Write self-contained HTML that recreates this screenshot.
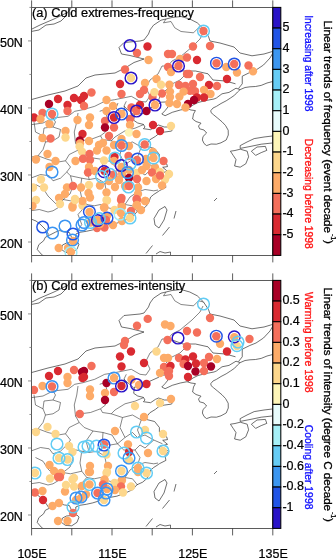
<!DOCTYPE html><html><head><meta charset="utf-8"><style>html,body{margin:0;padding:0;background:#fff}svg{display:block;will-change:transform}text{font-family:"Liberation Sans",sans-serif;fill:#000;stroke:#000;stroke-width:0.22px}</style></head><body>
<svg width="336" height="558" viewBox="0 0 336 558">
<rect width="336" height="558" fill="#fff"/>
<clipPath id="cp0"><rect x="31.6" y="7.4" width="241.20000000000002" height="248.0"/></clipPath>
<g clip-path="url(#cp0)">
<polyline points="31,29.5 40,25 54,19 67.5,12.5 72,7" fill="none" stroke="#222" stroke-width="0.65"/>
<polyline points="31,31.5 39,30 46,25 54,24 61,21 67,15" fill="none" stroke="#222" stroke-width="0.65"/>
<polyline points="168,66 175,68 183,71 195.5,71 208,73.8 213,80 225.5,81 235.5,83.8" fill="none" stroke="#222" stroke-width="0.65"/>
<polyline points="165,206.5 159,210 154,218.5 155,225 159,228 164,220 167,210 165,206.5" fill="none" stroke="#222" stroke-width="0.65"/>
<polyline points="176,211 174,218.5" fill="none" stroke="#222" stroke-width="0.65"/>
<polyline points="169.5,227 162.5,235.5" fill="none" stroke="#222" stroke-width="0.65"/>
<polyline points="152.5,245.5 146,253.5" fill="none" stroke="#222" stroke-width="0.65"/>
<polyline points="156,254 160,251.5 165,253 170.5,252 170.5,255" fill="none" stroke="#222" stroke-width="0.65"/>
<polyline points="214,201 217,198" fill="none" stroke="#222" stroke-width="0.65"/>
<polyline points="48.8,234.7 45,229 40,224 36,221 31,219" fill="none" stroke="#222" stroke-width="0.65"/>
<polyline points="62.4,245.1 66.5,243 77,242 79,244.1 77,249.3 71.75,252.8 65.5,252.4 61.3,249.3 62.4,245.1" fill="none" stroke="#222" stroke-width="0.65"/>
<polyline points="187.6,108.6 180.3,110.0 172.3,112.3 165.1,115.7 161.8,114.0 165.1,110.6 169.9,104.6 167.5,101.9 161.0,102.2 158.6,104.3 149.0,108.6 143.4,113.6 134.5,114.0 133.7,120.3 137.7,123.0 143.4,124.4 145.0,127.0 143.4,128.7 150.6,129.7 155.4,126.4 158.6,125.0 164.3,127.0 169.9,127.0 173.1,128.4 171.5,131.1 164.3,132.1 158.6,133.8 155.4,136.4 149.8,139.8 146.6,143.8 146.6,146.5 154.6,148.5 159.4,154.5 159.4,159.2 166.7,163.9 167.5,166.6 162.7,167.3 167.5,171.3 160.2,173.3 159.4,175.3 165.1,177.3 169.1,178.0 165.1,182.7 165.9,187.4 159.4,190.7 157.0,192.4 153.8,194.4 150.6,197.1 149.0,201.8 146.6,205.8 142.6,209.2 136.9,211.8 132.9,216.5 125.7,219.9 116.8,223.2 108.8,224.6 105.6,226.6 100.7,224.6 99.1,227.9 92.7,229.9 86.3,231.3 79.8,232.3 75.8,234.0 75.8,238.7 72.6,240.0 71.0,236.0 69.4,232.6 64.6,232.0 59.7,230.6 55.7,232.0 49.3,235.3 45.3,237.3 43.7,240.7 38.8,244.7 37.2,249.4 41.2,254.1 44.5,256.8" fill="none" stroke="#222" stroke-width="0.65"/>
<polyline points="187.6,108.9 191,110 195.4,110.6 193.5,114 192.6,119 196,121.5 201,123.2 198.5,126 199.6,128.8 204,130 206.6,133 203,136.5 202.4,140 204,143.5 206.6,145.6 211,144 216.4,144.2 221,142.8 226.2,140 228.3,135 228.2,130.2 225.5,125.5 222,121.8 217.5,118 213.6,114.8 211,112.5 210.8,110.6 213,108 216.4,106.4 221,103.5 226.2,100.8 230.5,98 234.6,95.2 237.5,92 240.2,89.6 245,87.5 250,86.8 255.5,86.5 261.2,85.4 267,83 274,81.2" fill="none" stroke="#222" stroke-width="0.65"/>
<polyline points="187.6,108.9 193,105 198,102.5 206,100.5 214,99 216.4,98 222,93.8 229,92.4 236,88.2 240.2,89.6" fill="none" stroke="#222" stroke-width="0.65"/>
<polyline points="274,51 270,58 263.5,65 256,70 249.75,72.5 242.25,76.2 242.25,83.8 238.5,88.5" fill="none" stroke="#222" stroke-width="0.65"/>
<polyline points="274,135.8 264,137 254.2,138.6 247,142 240.2,145.6 240.2,148.4 250,146.5 261.2,144.2 274,142.8" fill="none" stroke="#222" stroke-width="0.65"/>
<polyline points="230.4,151.2 235,150.5 240.2,149.2 247.2,151.2 248.6,156.8 245.8,163.8 240.2,167.2 234.6,166 236,159.6 233.2,155.4 230.4,151.2" fill="none" stroke="#222" stroke-width="0.65"/>
<polyline points="251.4,151.2 257,147 265.4,146.4 266.8,150.4 261.2,152.6 255.6,155.4 251.4,151.2" fill="none" stroke="#222" stroke-width="0.65"/>
<polyline points="166,19 161,20.2 153.5,25.2 150,30 148.5,34 144,40 140,41 124,42.5 119,47.5 121.5,54 130,55.5 138,57.5 144,59 134,62.5 125,68 115,73 95,75 86,78 78,86 65,91 48,95 31,99.7" fill="none" stroke="#222" stroke-width="0.65"/>
<polyline points="166,19 172,17.5 181,16.5 189.75,19 197.25,22.8 203.5,29 208.5,36.5 210,41 220,43 234,47 240,53 252,55.8 264,54 274,51" fill="none" stroke="#222" stroke-width="0.65"/>
<polyline points="31,124.7 43,123 53,118 68,116.3 74.7,111.3 83,109.7 94.7,106.3 104.7,101.3 114.7,99.7 123,98 131.3,96.3 140,101.3 146,102 150,96 146,88 150,80 158,74 162,66" fill="none" stroke="#222" stroke-width="0.55"/>
<polyline points="34,122 35.5,132 43,135.8 44,128 53,127 55.5,122 53,118" fill="none" stroke="#222" stroke-width="0.55"/>
<polyline points="43,135.8 45.5,142 43,149.5 38,155.8 31.75,157" fill="none" stroke="#222" stroke-width="0.55"/>
<polyline points="53,127 60.5,129.5 59,137 53,140.8 45.5,142" fill="none" stroke="#222" stroke-width="0.55"/>
<polyline points="78,113 76.75,122 74.25,132 75.5,143 79.25,149.5 84.25,154.5 93,158 103,159.5 112,162 117.5,170.8" fill="none" stroke="#222" stroke-width="0.55"/>
<polyline points="99.7,111.3 105,109.5 107.5,119.5 103,127 105.5,132 100.5,135.8 90.5,139.5 80.5,140.8 75.5,143" fill="none" stroke="#222" stroke-width="0.55"/>
<polyline points="100.5,135.8 102.5,139.5 111.25,140.8" fill="none" stroke="#222" stroke-width="0.55"/>
<polyline points="126.3,101.3 124,106 128,110 133.7,114.6" fill="none" stroke="#222" stroke-width="0.55"/>
<polyline points="118,103 116,108 120,112 125,110 124,106" fill="none" stroke="#222" stroke-width="0.55"/>
<polyline points="143.75,124.5 135,128.2 125,130.8 115,137 111.25,140.8 122.5,144.5 132.5,142 141.25,147 147,144.6" fill="none" stroke="#222" stroke-width="0.55"/>
<polyline points="122.5,144.5 120,154.5 125,164.5 117.5,170.8 110,172 102.5,167 103,159.5" fill="none" stroke="#222" stroke-width="0.55"/>
<polyline points="141.25,147 137.5,157 140,163.2 137.5,164.5 132.5,159.5 125,164.5" fill="none" stroke="#222" stroke-width="0.55"/>
<polyline points="137.5,164.5 145,162 153.75,167 162.5,170.8" fill="none" stroke="#222" stroke-width="0.55"/>
<polyline points="117.5,170.8 123.75,177 135,177 140,172 145,175 153.75,167" fill="none" stroke="#222" stroke-width="0.55"/>
<polyline points="135,177 140,184.5 137.5,192 145,189.5 153.75,190.8 158,190" fill="none" stroke="#222" stroke-width="0.55"/>
<polyline points="110,172 105,184.5 107.5,197 105,207 115,209.5 125,204.5 132.5,205.8 137.5,212" fill="none" stroke="#222" stroke-width="0.55"/>
<polyline points="125,204.5 130,197 137.5,192" fill="none" stroke="#222" stroke-width="0.55"/>
<polyline points="38,155.8 48,159.5 58,162 65.5,160.8 69.25,154.5 79.25,149.5" fill="none" stroke="#222" stroke-width="0.55"/>
<polyline points="65.5,160.8 70.5,167 66.75,172 70.5,175.8 81.75,178.2 89.25,179.5 96.75,178.2 103,182 105,184.5" fill="none" stroke="#222" stroke-width="0.55"/>
<polyline points="30.5,178.2 40.5,174.5 49.25,175.8 53,180.8 60.5,178.2 66.75,172" fill="none" stroke="#222" stroke-width="0.55"/>
<polyline points="89.25,179.5 86,168 93,158" fill="none" stroke="#222" stroke-width="0.55"/>
<polyline points="70.5,175.8 73,186 70,194 63,199.5 59.25,207 53,210.8 48,212 39.25,209.5 30.5,210.8" fill="none" stroke="#222" stroke-width="0.55"/>
<polyline points="63,199.5 70.5,200.8 81.75,198.2 86.75,204.5 94.25,205.8 100.5,204.5 105,207" fill="none" stroke="#222" stroke-width="0.55"/>
<polyline points="81.75,198.2 80,190 81.75,178.2" fill="none" stroke="#222" stroke-width="0.55"/>
<polyline points="86.75,204.5 78,214.5 81.75,224.5 76.75,232" fill="none" stroke="#222" stroke-width="0.55"/>
<polyline points="35.5,184.5 43,188.2 48,196 53,201 59.25,207" fill="none" stroke="#222" stroke-width="0.55"/>
<polyline points="186,74 180,80 172,84 166,90 160,96 158,102" fill="none" stroke="#222" stroke-width="0.55"/>
<polyline points="203,33 200,39 192,47 180,57 172,61 168,66" fill="none" stroke="#222" stroke-width="0.55"/>
<polyline points="168,66 162,66" fill="none" stroke="#222" stroke-width="0.55"/>
<polyline points="166,19 163.5,22.8 171,21.5 174.75,27.8 181,31.5 193.5,32.8 198.5,27.8 203.5,29" fill="none" stroke="#222" stroke-width="0.55"/>
<circle cx="147.5" cy="46.5" r="4.2" fill="#d92a31"/>
<circle cx="137" cy="53" r="4.2" fill="#f46f5b"/>
<circle cx="148.5" cy="60" r="4.2" fill="#fdab68"/>
<circle cx="125" cy="69.5" r="4.2" fill="#f46f5b"/>
<circle cx="168" cy="54" r="4.2" fill="#f46f5b"/>
<circle cx="203.5" cy="31" r="4.2" fill="#f46f5b"/>
<circle cx="193" cy="46.5" r="4.2" fill="#f46f5b"/>
<circle cx="210" cy="46" r="4.2" fill="#f46f5b"/>
<circle cx="197" cy="60" r="4.2" fill="#d92a31"/>
<circle cx="172" cy="54" r="4.2" fill="#f46f5b"/>
<circle cx="180" cy="59" r="4.2" fill="#fdab68"/>
<circle cx="187" cy="57.5" r="4.2" fill="#f46f5b"/>
<circle cx="178.5" cy="66" r="4.2" fill="#f46f5b"/>
<circle cx="216.5" cy="63.2" r="4.2" fill="#f46f5b"/>
<circle cx="234.2" cy="64" r="4.2" fill="#f46f5b"/>
<circle cx="226.3" cy="67" r="4.2" fill="#fdab68"/>
<circle cx="253" cy="71.3" r="4.2" fill="#fdab68"/>
<circle cx="248.5" cy="65.5" r="4.2" fill="#f46f5b"/>
<circle cx="168" cy="67" r="4.2" fill="#f46f5b"/>
<circle cx="171" cy="72" r="4.2" fill="#fdab68"/>
<circle cx="189" cy="74" r="4.2" fill="#f46f5b"/>
<circle cx="49" cy="104" r="4.2" fill="#a80026"/>
<circle cx="58" cy="99" r="4.2" fill="#d92a31"/>
<circle cx="74" cy="98" r="4.2" fill="#d92a31"/>
<circle cx="67.5" cy="105" r="4.2" fill="#d92a31"/>
<circle cx="81" cy="100" r="4.2" fill="#d92a31"/>
<circle cx="67.5" cy="111" r="4.2" fill="#f46f5b"/>
<circle cx="52" cy="114" r="4.2" fill="#f46f5b"/>
<circle cx="42.5" cy="113" r="4.2" fill="#f46f5b"/>
<circle cx="34" cy="117.5" r="4.2" fill="#d92a31"/>
<circle cx="40.5" cy="119" r="4.2" fill="#fdab68"/>
<circle cx="49.5" cy="124" r="4.2" fill="#fdab68"/>
<circle cx="77.5" cy="120" r="4.2" fill="#fdab68"/>
<circle cx="65.5" cy="131" r="4.2" fill="#fdab68"/>
<circle cx="65.5" cy="137.5" r="4.2" fill="#fdd78c"/>
<circle cx="42.5" cy="138" r="4.2" fill="#fdab68"/>
<circle cx="82.5" cy="134" r="4.2" fill="#d92a31"/>
<circle cx="84" cy="106" r="4.2" fill="#f46f5b"/>
<circle cx="131" cy="78" r="4.2" fill="#fdd78c"/>
<circle cx="120" cy="84" r="4.2" fill="#d92a31"/>
<circle cx="145" cy="83" r="4.2" fill="#fdab68"/>
<circle cx="156.5" cy="79" r="4.2" fill="#fdab68"/>
<circle cx="161" cy="84.75" r="4.2" fill="#fdd78c"/>
<circle cx="91.5" cy="92.5" r="4.2" fill="#f46f5b"/>
<circle cx="121.5" cy="94" r="4.2" fill="#f46f5b"/>
<circle cx="144" cy="90" r="4.2" fill="#f46f5b"/>
<circle cx="140" cy="94" r="4.2" fill="#f46f5b"/>
<circle cx="152.5" cy="97" r="4.2" fill="#f46f5b"/>
<circle cx="162" cy="93.5" r="4.2" fill="#f46f5b"/>
<circle cx="154.4" cy="92.25" r="4.2" fill="#fdd78c"/>
<circle cx="106.5" cy="100" r="4.2" fill="#fdab68"/>
<circle cx="84" cy="96" r="4.2" fill="#d92a31"/>
<circle cx="155" cy="105" r="4.2" fill="#fdab68"/>
<circle cx="113" cy="106" r="4.2" fill="#fdab68"/>
<circle cx="106.5" cy="111" r="4.2" fill="#fdab68"/>
<circle cx="136.5" cy="111" r="4.2" fill="#f46f5b"/>
<circle cx="131.5" cy="107.5" r="4.2" fill="#f46f5b"/>
<circle cx="140" cy="105" r="4.2" fill="#d92a31"/>
<circle cx="146.5" cy="111" r="4.2" fill="#a80026"/>
<circle cx="121.5" cy="114" r="4.2" fill="#fdab68"/>
<circle cx="114" cy="117.5" r="4.2" fill="#d92a31"/>
<circle cx="130" cy="119" r="4.2" fill="#f46f5b"/>
<circle cx="90" cy="117.5" r="4.2" fill="#fdab68"/>
<circle cx="89" cy="125" r="4.2" fill="#fdab68"/>
<circle cx="105" cy="121" r="4.2" fill="#f46f5b"/>
<circle cx="105" cy="127.5" r="4.2" fill="#a80026"/>
<circle cx="114" cy="127.5" r="4.2" fill="#f46f5b"/>
<circle cx="130" cy="125" r="4.2" fill="#fdab68"/>
<circle cx="129" cy="132.5" r="4.2" fill="#fdf3b4"/>
<circle cx="136.5" cy="134" r="4.2" fill="#fdab68"/>
<circle cx="153" cy="125" r="4.2" fill="#d92a31"/>
<circle cx="160" cy="131" r="4.2" fill="#d92a31"/>
<circle cx="109" cy="136" r="4.2" fill="#f46f5b"/>
<circle cx="121.5" cy="139" r="4.2" fill="#fdab68"/>
<circle cx="187" cy="74" r="4.2" fill="#f46f5b"/>
<circle cx="200" cy="77" r="4.2" fill="#f46f5b"/>
<circle cx="227" cy="79" r="4.2" fill="#d92a31"/>
<circle cx="237" cy="72.5" r="4.2" fill="#fdab68"/>
<circle cx="179" cy="85" r="4.2" fill="#f46f5b"/>
<circle cx="185.5" cy="86" r="4.2" fill="#f46f5b"/>
<circle cx="193" cy="84" r="4.2" fill="#f46f5b"/>
<circle cx="209" cy="85" r="4.2" fill="#d92a31"/>
<circle cx="217" cy="86" r="4.2" fill="#f46f5b"/>
<circle cx="169.4" cy="84.75" r="4.2" fill="#fdab68"/>
<circle cx="204" cy="90" r="4.2" fill="#fdab68"/>
<circle cx="190" cy="90.8" r="4.2" fill="#f46f5b"/>
<circle cx="195" cy="91.2" r="4.2" fill="#f46f5b"/>
<circle cx="183.6" cy="91.6" r="4.2" fill="#fdab68"/>
<circle cx="210.5" cy="94" r="4.2" fill="#fdab68"/>
<circle cx="170" cy="91.6" r="4.2" fill="#fdab68"/>
<circle cx="170" cy="97" r="4.2" fill="#fdab68"/>
<circle cx="179.4" cy="96.6" r="4.2" fill="#fdab68"/>
<circle cx="204" cy="97.5" r="4.2" fill="#d92a31"/>
<circle cx="197" cy="97.5" r="4.2" fill="#d92a31"/>
<circle cx="194" cy="100" r="4.2" fill="#a80026"/>
<circle cx="188" cy="104" r="4.2" fill="#a80026"/>
<circle cx="177" cy="104" r="4.2" fill="#fdab68"/>
<circle cx="185.5" cy="107.5" r="4.2" fill="#fdab68"/>
<circle cx="169.4" cy="103" r="4.2" fill="#fdab68"/>
<circle cx="171" cy="126" r="4.2" fill="#fdd78c"/>
<circle cx="50.5" cy="138.5" r="4.2" fill="#f46f5b"/>
<circle cx="79.8" cy="140.4" r="4.2" fill="#a80026"/>
<circle cx="80" cy="143.5" r="4.2" fill="#fdab68"/>
<circle cx="79.6" cy="146.6" r="4.2" fill="#fdd78c"/>
<circle cx="47.5" cy="154" r="4.2" fill="#fdab68"/>
<circle cx="36" cy="159.5" r="4.2" fill="#fdab68"/>
<circle cx="55.5" cy="161" r="4.2" fill="#fdab68"/>
<circle cx="75.5" cy="161" r="4.2" fill="#fdab68"/>
<circle cx="49.5" cy="167" r="4.2" fill="#fdab68"/>
<circle cx="41" cy="179.5" r="4.2" fill="#fdd78c"/>
<circle cx="33" cy="187.5" r="4.2" fill="#fdd78c"/>
<circle cx="44" cy="187.5" r="4.2" fill="#fdd78c"/>
<circle cx="67" cy="187.5" r="4.2" fill="#fdab68"/>
<circle cx="73" cy="186" r="4.2" fill="#f46f5b"/>
<circle cx="81" cy="187.5" r="4.2" fill="#fdab68"/>
<circle cx="65" cy="194" r="4.2" fill="#fdab68"/>
<circle cx="59" cy="198" r="4.2" fill="#fdab68"/>
<circle cx="36" cy="200" r="4.2" fill="#fdd78c"/>
<circle cx="75" cy="199" r="4.2" fill="#fdd78c"/>
<circle cx="32.5" cy="206" r="4.2" fill="#fdab68"/>
<circle cx="72.5" cy="206" r="4.2" fill="#fdab68"/>
<circle cx="89" cy="141" r="4.2" fill="#fdab68"/>
<circle cx="99" cy="145" r="4.2" fill="#fdab68"/>
<circle cx="103" cy="143" r="4.2" fill="#fdab68"/>
<circle cx="97" cy="150.5" r="4.2" fill="#fdab68"/>
<circle cx="106.5" cy="150.5" r="4.2" fill="#fdab68"/>
<circle cx="114" cy="145" r="4.2" fill="#fdab68"/>
<circle cx="82" cy="151.6" r="4.2" fill="#fdd78c"/>
<circle cx="89.5" cy="154" r="4.2" fill="#f46f5b"/>
<circle cx="90" cy="160" r="4.2" fill="#f46f5b"/>
<circle cx="83" cy="158.8" r="4.2" fill="#f46f5b"/>
<circle cx="104" cy="160.5" r="4.2" fill="#fdd78c"/>
<circle cx="89" cy="167" r="4.2" fill="#fdab68"/>
<circle cx="88" cy="172.5" r="4.2" fill="#f46f5b"/>
<circle cx="95" cy="171" r="4.2" fill="#fdab68"/>
<circle cx="121.5" cy="145.5" r="4.2" fill="#f46f5b"/>
<circle cx="114.5" cy="157" r="4.2" fill="#d92a31"/>
<circle cx="114" cy="161" r="4.2" fill="#fdab68"/>
<circle cx="121.5" cy="167" r="4.2" fill="#fdab68"/>
<circle cx="144.7" cy="144.5" r="4.2" fill="#f46f5b"/>
<circle cx="129" cy="146" r="4.2" fill="#fdab68"/>
<circle cx="153" cy="152" r="4.2" fill="#fdab68"/>
<circle cx="153.5" cy="158" r="4.2" fill="#fdab68"/>
<circle cx="137" cy="160" r="4.2" fill="#f46f5b"/>
<circle cx="163.5" cy="161" r="4.2" fill="#f46f5b"/>
<circle cx="128.5" cy="156" r="4.2" fill="#f46f5b"/>
<circle cx="146" cy="159" r="4.2" fill="#fdab68"/>
<circle cx="146.5" cy="166" r="4.2" fill="#fdab68"/>
<circle cx="155" cy="167.5" r="4.2" fill="#fdab68"/>
<circle cx="152" cy="172.5" r="4.2" fill="#f46f5b"/>
<circle cx="160" cy="172" r="4.2" fill="#fdd78c"/>
<circle cx="136.5" cy="173" r="4.2" fill="#fdd78c"/>
<circle cx="142" cy="170" r="4.2" fill="#fdab68"/>
<circle cx="104.5" cy="171" r="4.2" fill="#d92a31"/>
<circle cx="113.5" cy="174.7" r="4.2" fill="#f46f5b"/>
<circle cx="129" cy="170" r="4.2" fill="#fdab68"/>
<circle cx="122" cy="174" r="4.2" fill="#fdab68"/>
<circle cx="89" cy="185" r="4.2" fill="#fdd78c"/>
<circle cx="100" cy="185.5" r="4.2" fill="#fdab68"/>
<circle cx="115" cy="187" r="4.2" fill="#fdab68"/>
<circle cx="88.5" cy="193" r="4.2" fill="#fdab68"/>
<circle cx="106.5" cy="192.5" r="4.2" fill="#fdab68"/>
<circle cx="90" cy="197.5" r="4.2" fill="#fdab68"/>
<circle cx="106.5" cy="200" r="4.2" fill="#fdd78c"/>
<circle cx="121.5" cy="198" r="4.2" fill="#f46f5b"/>
<circle cx="119" cy="180" r="4.2" fill="#fdab68"/>
<circle cx="109" cy="181" r="4.2" fill="#fdab68"/>
<circle cx="104" cy="207.5" r="4.2" fill="#fdab68"/>
<circle cx="121.5" cy="206" r="4.2" fill="#fdab68"/>
<circle cx="125" cy="186" r="4.2" fill="#fdab68"/>
<circle cx="129" cy="178" r="4.2" fill="#a80026"/>
<circle cx="137" cy="179" r="4.2" fill="#f46f5b"/>
<circle cx="146.5" cy="181" r="4.2" fill="#fdab68"/>
<circle cx="156" cy="179" r="4.2" fill="#fdab68"/>
<circle cx="165" cy="179.5" r="4.2" fill="#fdd78c"/>
<circle cx="160" cy="175.5" r="4.2" fill="#f46f5b"/>
<circle cx="162" cy="185.5" r="4.2" fill="#fdab68"/>
<circle cx="129" cy="186" r="4.2" fill="#f46f5b"/>
<circle cx="138" cy="187.5" r="4.2" fill="#fdab68"/>
<circle cx="138" cy="194" r="4.2" fill="#fdab68"/>
<circle cx="136.5" cy="199" r="4.2" fill="#f46f5b"/>
<circle cx="145.5" cy="201" r="4.2" fill="#fdab68"/>
<circle cx="136.5" cy="205.5" r="4.2" fill="#fdab68"/>
<circle cx="169" cy="174" r="4.2" fill="#fdd78c"/>
<circle cx="72.5" cy="207.5" r="4.2" fill="#fdab68"/>
<circle cx="82.5" cy="205.5" r="4.2" fill="#fdd78c"/>
<circle cx="82.5" cy="201" r="4.2" fill="#fdab68"/>
<circle cx="75" cy="200" r="4.2" fill="#fdd78c"/>
<circle cx="60" cy="204" r="4.2" fill="#fdd78c"/>
<circle cx="89.5" cy="212" r="4.2" fill="#fdab68"/>
<circle cx="90.5" cy="222.5" r="4.2" fill="#fdab68"/>
<circle cx="97.5" cy="220" r="4.2" fill="#fdab68"/>
<circle cx="107" cy="200.5" r="4.2" fill="#fdd78c"/>
<circle cx="121" cy="200" r="4.2" fill="#f46f5b"/>
<circle cx="137" cy="200" r="4.2" fill="#f46f5b"/>
<circle cx="137" cy="205" r="4.2" fill="#fdab68"/>
<circle cx="141" cy="210" r="4.2" fill="#fdab68"/>
<circle cx="122" cy="207" r="4.2" fill="#fdab68"/>
<circle cx="104.5" cy="207.5" r="4.2" fill="#fdab68"/>
<circle cx="114.5" cy="210" r="4.2" fill="#fdd78c"/>
<circle cx="131" cy="211" r="4.2" fill="#f46f5b"/>
<circle cx="121" cy="213" r="4.2" fill="#fdab68"/>
<circle cx="130" cy="218" r="4.2" fill="#fdd78c"/>
<circle cx="107" cy="216" r="4.2" fill="#fdab68"/>
<circle cx="122" cy="221" r="4.2" fill="#fdab68"/>
<circle cx="113" cy="225" r="4.2" fill="#fdab68"/>
<circle cx="104.5" cy="227.5" r="4.2" fill="#f46f5b"/>
<circle cx="106" cy="220" r="4.2" fill="#f46f5b"/>
<circle cx="145" cy="201" r="4.2" fill="#fdab68"/>
<circle cx="73" cy="241" r="4.2" fill="#fdab68"/>
<circle cx="58.7" cy="248" r="4.2" fill="#fdab68"/>
<circle cx="68" cy="248" r="4.2" fill="#fdab68"/>
<circle cx="71" cy="252" r="4.2" fill="#fdab68"/>
<circle cx="97" cy="228" r="4.2" fill="#f46f5b"/>
<circle cx="100" cy="224" r="4.2" fill="#fdab68"/>
<circle cx="130" cy="45.5" r="5.85" fill="none" stroke="#2a14c8" stroke-width="1.45"/>
<circle cx="203.5" cy="31" r="5.85" fill="none" stroke="#62ccf4" stroke-width="1.45"/>
<circle cx="178.5" cy="66" r="5.85" fill="none" stroke="#2a14c8" stroke-width="1.45"/>
<circle cx="216.5" cy="63.2" r="5.85" fill="none" stroke="#2255e6" stroke-width="1.45"/>
<circle cx="234.2" cy="64" r="5.85" fill="none" stroke="#2255e6" stroke-width="1.45"/>
<circle cx="52" cy="114" r="5.85" fill="none" stroke="#62ccf4" stroke-width="1.45"/>
<circle cx="131" cy="78" r="5.85" fill="none" stroke="#2a14c8" stroke-width="1.45"/>
<circle cx="155" cy="105" r="5.85" fill="none" stroke="#2a14c8" stroke-width="1.45"/>
<circle cx="136.5" cy="111" r="5.85" fill="none" stroke="#2a14c8" stroke-width="1.45"/>
<circle cx="121.5" cy="114" r="5.85" fill="none" stroke="#2255e6" stroke-width="1.45"/>
<circle cx="114" cy="117.5" r="5.85" fill="none" stroke="#2a14c8" stroke-width="1.45"/>
<circle cx="52" cy="172" r="5.85" fill="none" stroke="#3a94f2" stroke-width="1.45"/>
<circle cx="121.5" cy="145.5" r="5.85" fill="none" stroke="#3a94f2" stroke-width="1.45"/>
<circle cx="115" cy="158" r="5.85" fill="none" stroke="#62ccf4" stroke-width="1.45"/>
<circle cx="121.3" cy="165.5" r="5.85" fill="none" stroke="#2a14c8" stroke-width="1.45"/>
<circle cx="104" cy="171.6" r="5.85" fill="none" stroke="#2a14c8" stroke-width="1.45"/>
<circle cx="110" cy="174.3" r="5.85" fill="none" stroke="#62ccf4" stroke-width="1.45"/>
<circle cx="144.7" cy="144.5" r="5.85" fill="none" stroke="#62ccf4" stroke-width="1.45"/>
<circle cx="153.5" cy="158" r="5.85" fill="none" stroke="#62ccf4" stroke-width="1.45"/>
<circle cx="137.5" cy="159" r="5.85" fill="none" stroke="#2255e6" stroke-width="1.45"/>
<circle cx="130" cy="164" r="5.85" fill="none" stroke="#62ccf4" stroke-width="1.45"/>
<circle cx="127.5" cy="172.5" r="5.85" fill="none" stroke="#3a94f2" stroke-width="1.45"/>
<circle cx="101.6" cy="176.6" r="5.85" fill="none" stroke="#62ccf4" stroke-width="1.45"/>
<circle cx="128.5" cy="187" r="5.85" fill="none" stroke="#62ccf4" stroke-width="1.45"/>
<circle cx="89.4" cy="211.75" r="5.85" fill="none" stroke="#2255e6" stroke-width="1.45"/>
<circle cx="65" cy="226" r="5.85" fill="none" stroke="#3a94f2" stroke-width="1.45"/>
<circle cx="82" cy="225" r="5.85" fill="none" stroke="#3a94f2" stroke-width="1.45"/>
<circle cx="90.5" cy="222.5" r="5.85" fill="none" stroke="#62ccf4" stroke-width="1.45"/>
<circle cx="97.5" cy="220.5" r="5.85" fill="none" stroke="#2a14c8" stroke-width="1.45"/>
<circle cx="73" cy="234" r="5.85" fill="none" stroke="#2255e6" stroke-width="1.45"/>
<circle cx="120" cy="214.25" r="5.85" fill="none" stroke="#a0ecf6" stroke-width="1.45"/>
<circle cx="130" cy="218" r="5.85" fill="none" stroke="#62ccf4" stroke-width="1.45"/>
<circle cx="107" cy="218" r="5.85" fill="none" stroke="#2255e6" stroke-width="1.45"/>
<circle cx="99.4" cy="218.6" r="5.85" fill="none" stroke="#62ccf4" stroke-width="1.45"/>
<circle cx="42.7" cy="227" r="5.85" fill="none" stroke="#2255e6" stroke-width="1.45"/>
<circle cx="52.5" cy="233" r="5.85" fill="none" stroke="#3a94f2" stroke-width="1.45"/>
<circle cx="72.5" cy="240" r="5.85" fill="none" stroke="#3a94f2" stroke-width="1.45"/>
<circle cx="71" cy="252.5" r="5.85" fill="none" stroke="#a0ecf6" stroke-width="1.45"/>
<circle cx="84" cy="222.5" r="5.85" fill="none" stroke="#3a94f2" stroke-width="1.45"/>
</g>
<rect x="31.6" y="7.4" width="241.20000000000002" height="248.0" fill="none" stroke="#333" stroke-width="0.8"/>
<line x1="31.6" y1="7.4" x2="31.6" y2="0.40000000000000036" stroke="#333" stroke-width="0.8"/>
<line x1="31.6" y1="255.4" x2="31.6" y2="262.4" stroke="#333" stroke-width="0.8"/>
<line x1="71.80000000000001" y1="7.4" x2="71.80000000000001" y2="0.40000000000000036" stroke="#333" stroke-width="0.8"/>
<line x1="71.80000000000001" y1="255.4" x2="71.80000000000001" y2="262.4" stroke="#333" stroke-width="0.8"/>
<line x1="112.0" y1="7.4" x2="112.0" y2="0.40000000000000036" stroke="#333" stroke-width="0.8"/>
<line x1="112.0" y1="255.4" x2="112.0" y2="262.4" stroke="#333" stroke-width="0.8"/>
<line x1="152.20000000000002" y1="7.4" x2="152.20000000000002" y2="0.40000000000000036" stroke="#333" stroke-width="0.8"/>
<line x1="152.20000000000002" y1="255.4" x2="152.20000000000002" y2="262.4" stroke="#333" stroke-width="0.8"/>
<line x1="192.4" y1="7.4" x2="192.4" y2="0.40000000000000036" stroke="#333" stroke-width="0.8"/>
<line x1="192.4" y1="255.4" x2="192.4" y2="262.4" stroke="#333" stroke-width="0.8"/>
<line x1="232.6" y1="7.4" x2="232.6" y2="0.40000000000000036" stroke="#333" stroke-width="0.8"/>
<line x1="232.6" y1="255.4" x2="232.6" y2="262.4" stroke="#333" stroke-width="0.8"/>
<line x1="272.8" y1="7.4" x2="272.8" y2="0.40000000000000036" stroke="#333" stroke-width="0.8"/>
<line x1="272.8" y1="255.4" x2="272.8" y2="262.4" stroke="#333" stroke-width="0.8"/>
<line x1="31.6" y1="242.00500000000002" x2="28.0" y2="242.00500000000002" stroke="#777" stroke-width="0.8"/>
<text x="22.9" y="248.30500000000004" font-size="12.5" text-anchor="end">20N</text>
<line x1="31.6" y1="208.49" x2="29.400000000000002" y2="208.49" stroke="#777" stroke-width="0.8"/>
<line x1="31.6" y1="174.97500000000002" x2="28.0" y2="174.97500000000002" stroke="#777" stroke-width="0.8"/>
<text x="22.9" y="181.27500000000003" font-size="12.5" text-anchor="end">30N</text>
<line x1="31.6" y1="141.46" x2="29.400000000000002" y2="141.46" stroke="#777" stroke-width="0.8"/>
<line x1="31.6" y1="107.94500000000001" x2="28.0" y2="107.94500000000001" stroke="#777" stroke-width="0.8"/>
<text x="22.9" y="114.245" font-size="12.5" text-anchor="end">40N</text>
<line x1="31.6" y1="74.43" x2="29.400000000000002" y2="74.43" stroke="#777" stroke-width="0.8"/>
<line x1="31.6" y1="40.915" x2="28.0" y2="40.915" stroke="#777" stroke-width="0.8"/>
<text x="22.9" y="47.214999999999996" font-size="12.5" text-anchor="end">50N</text>
<line x1="31.6" y1="7.4" x2="29.400000000000002" y2="7.4" stroke="#777" stroke-width="0.8"/>
<text x="32" y="16.6" font-size="12.3" textLength="162" lengthAdjust="spacingAndGlyphs">(a) Cold extremes-frequency</text>
<rect x="272.8" y="7.4" width="8.0" height="20.67" fill="#2a14c8" stroke="#000" stroke-width="1.05"/>
<rect x="272.8" y="28.07" width="8.0" height="20.67" fill="#2255e6" stroke="#000" stroke-width="1.05"/>
<rect x="272.8" y="48.73" width="8.0" height="20.67" fill="#3c96f0" stroke="#000" stroke-width="1.05"/>
<rect x="272.8" y="69.4" width="8.0" height="20.67" fill="#66ccf5" stroke="#000" stroke-width="1.05"/>
<rect x="272.8" y="90.07" width="8.0" height="20.67" fill="#a6f0f8" stroke="#000" stroke-width="1.05"/>
<rect x="272.8" y="110.73" width="8.0" height="20.67" fill="#e8fcfc" stroke="#000" stroke-width="1.05"/>
<rect x="272.8" y="131.4" width="8.0" height="20.67" fill="#fdf5b8" stroke="#000" stroke-width="1.05"/>
<rect x="272.8" y="152.07" width="8.0" height="20.67" fill="#fdd78c" stroke="#000" stroke-width="1.05"/>
<rect x="272.8" y="172.73" width="8.0" height="20.67" fill="#fdab68" stroke="#000" stroke-width="1.05"/>
<rect x="272.8" y="193.4" width="8.0" height="20.67" fill="#f46f5b" stroke="#000" stroke-width="1.05"/>
<rect x="272.8" y="214.07" width="8.0" height="20.67" fill="#d92a31" stroke="#000" stroke-width="1.05"/>
<rect x="272.8" y="234.73" width="8.0" height="20.67" fill="#a80026" stroke="#000" stroke-width="1.05"/>
<text x="282.4" y="31.3" font-size="12.5">5</text>
<text x="282.4" y="51.9" font-size="12.5">4</text>
<text x="282.4" y="72.6" font-size="12.5">3</text>
<text x="282.4" y="93.3" font-size="12.5">2</text>
<text x="282.4" y="113.9" font-size="12.5">1</text>
<text x="282.4" y="134.6" font-size="12.5">0</text>
<text x="282.4" y="155.3" font-size="12.5">-1</text>
<text x="282.4" y="175.9" font-size="12.5">-2</text>
<text x="282.4" y="196.6" font-size="12.5">-3</text>
<text x="282.4" y="217.3" font-size="12.5">-4</text>
<text x="282.4" y="237.9" font-size="12.5">-5</text>
<text transform="translate(305.2,15.2) rotate(90)" font-size="10.3" textLength="96.2" lengthAdjust="spacingAndGlyphs" style="fill:#1414ff;stroke:#1414ff;stroke-width:0.32px">Increasing after 1998</text>
<text transform="translate(305.2,138.7) rotate(90)" font-size="10.3" textLength="110" lengthAdjust="spacingAndGlyphs" style="fill:#ff1414;stroke:#ff1414;stroke-width:0.32px">Decreasing before 1998</text>
<text transform="translate(324,20.4) rotate(90)" font-size="11.6" textLength="212.7" lengthAdjust="spacingAndGlyphs" style="fill:#000;stroke:#000;stroke-width:0.32px">Linear trends of frequency (event decade</text>
<text transform="translate(331.2,234.0) rotate(90)" font-size="7">-1</text>
<text transform="translate(324.6,240.1) rotate(90)" font-size="11.6">)</text>
<clipPath id="cp273"><rect x="31.6" y="280.4" width="241.20000000000002" height="248.0"/></clipPath>
<g clip-path="url(#cp273)">
<polyline points="31,302.5 40,298 54,292 67.5,285.5 72,280" fill="none" stroke="#222" stroke-width="0.65"/>
<polyline points="31,304.5 39,303 46,298 54,297 61,294 67,288" fill="none" stroke="#222" stroke-width="0.65"/>
<polyline points="168,339 175,341 183,344 195.5,344 208,346.8 213,353 225.5,354 235.5,356.8" fill="none" stroke="#222" stroke-width="0.65"/>
<polyline points="165,479.5 159,483 154,491.5 155,498 159,501 164,493 167,483 165,479.5" fill="none" stroke="#222" stroke-width="0.65"/>
<polyline points="176,484 174,491.5" fill="none" stroke="#222" stroke-width="0.65"/>
<polyline points="169.5,500 162.5,508.5" fill="none" stroke="#222" stroke-width="0.65"/>
<polyline points="152.5,518.5 146,526.5" fill="none" stroke="#222" stroke-width="0.65"/>
<polyline points="156,527 160,524.5 165,526 170.5,525 170.5,528" fill="none" stroke="#222" stroke-width="0.65"/>
<polyline points="214,474 217,471" fill="none" stroke="#222" stroke-width="0.65"/>
<polyline points="48.8,507.7 45,502 40,497 36,494 31,492" fill="none" stroke="#222" stroke-width="0.65"/>
<polyline points="62.4,518.1 66.5,516 77,515 79,517.1 77,522.3 71.75,525.8 65.5,525.4 61.3,522.3 62.4,518.1" fill="none" stroke="#222" stroke-width="0.65"/>
<polyline points="187.6,381.6 180.3,383.0 172.3,385.3 165.1,388.7 161.8,387.0 165.1,383.6 169.9,377.6 167.5,374.9 161.0,375.2 158.6,377.3 149.0,381.6 143.4,386.6 134.5,387.0 133.7,393.3 137.7,396.0 143.4,397.4 145.0,400.0 143.4,401.7 150.6,402.7 155.4,399.4 158.6,398.0 164.3,400.0 169.9,400.0 173.1,401.4 171.5,404.1 164.3,405.1 158.6,406.8 155.4,409.4 149.8,412.8 146.6,416.8 146.6,419.5 154.6,421.5 159.4,427.5 159.4,432.2 166.7,436.9 167.5,439.6 162.7,440.3 167.5,444.3 160.2,446.3 159.4,448.3 165.1,450.3 169.1,451.0 165.1,455.7 165.9,460.4 159.4,463.7 157.0,465.4 153.8,467.4 150.6,470.1 149.0,474.8 146.6,478.8 142.6,482.2 136.9,484.8 132.9,489.5 125.7,492.9 116.8,496.2 108.8,497.6 105.6,499.6 100.7,497.6 99.1,500.9 92.7,502.9 86.3,504.3 79.8,505.3 75.8,507.0 75.8,511.7 72.6,513.0 71.0,509.0 69.4,505.6 64.6,505.0 59.7,503.6 55.7,505.0 49.3,508.3 45.3,510.3 43.7,513.7 38.8,517.7 37.2,522.4 41.2,527.1 44.5,529.8" fill="none" stroke="#222" stroke-width="0.65"/>
<polyline points="187.6,381.9 191,383 195.4,383.6 193.5,387 192.6,392 196,394.5 201,396.2 198.5,399 199.6,401.8 204,403 206.6,406 203,409.5 202.4,413 204,416.5 206.6,418.6 211,417 216.4,417.2 221,415.8 226.2,413 228.3,408 228.2,403.2 225.5,398.5 222,394.8 217.5,391 213.6,387.8 211,385.5 210.8,383.6 213,381 216.4,379.4 221,376.5 226.2,373.8 230.5,371 234.6,368.2 237.5,365 240.2,362.6 245,360.5 250,359.8 255.5,359.5 261.2,358.4 267,356 274,354.2" fill="none" stroke="#222" stroke-width="0.65"/>
<polyline points="187.6,381.9 193,378 198,375.5 206,373.5 214,372 216.4,371 222,366.8 229,365.4 236,361.2 240.2,362.6" fill="none" stroke="#222" stroke-width="0.65"/>
<polyline points="274,324 270,331 263.5,338 256,343 249.75,345.5 242.25,349.2 242.25,356.8 238.5,361.5" fill="none" stroke="#222" stroke-width="0.65"/>
<polyline points="274,408.8 264,410 254.2,411.6 247,415 240.2,418.6 240.2,421.4 250,419.5 261.2,417.2 274,415.8" fill="none" stroke="#222" stroke-width="0.65"/>
<polyline points="230.4,424.2 235,423.5 240.2,422.2 247.2,424.2 248.6,429.8 245.8,436.8 240.2,440.2 234.6,439 236,432.6 233.2,428.4 230.4,424.2" fill="none" stroke="#222" stroke-width="0.65"/>
<polyline points="251.4,424.2 257,420 265.4,419.4 266.8,423.4 261.2,425.6 255.6,428.4 251.4,424.2" fill="none" stroke="#222" stroke-width="0.65"/>
<polyline points="166,292 161,293.2 153.5,298.2 150,303 148.5,307 144,313 140,314 124,315.5 119,320.5 121.5,327 130,328.5 138,330.5 144,332 134,335.5 125,341 115,346 95,348 86,351 78,359 65,364 48,368 31,372.7" fill="none" stroke="#222" stroke-width="0.65"/>
<polyline points="166,292 172,290.5 181,289.5 189.75,292 197.25,295.8 203.5,302 208.5,309.5 210,314 220,316 234,320 240,326 252,328.8 264,327 274,324" fill="none" stroke="#222" stroke-width="0.65"/>
<polyline points="31,397.7 43,396 53,391 68,389.3 74.7,384.3 83,382.7 94.7,379.3 104.7,374.3 114.7,372.7 123,371 131.3,369.3 140,374.3 146,375 150,369 146,361 150,353 158,347 162,339" fill="none" stroke="#222" stroke-width="0.55"/>
<polyline points="34,395 35.5,405 43,408.8 44,401 53,400 55.5,395 53,391" fill="none" stroke="#222" stroke-width="0.55"/>
<polyline points="43,408.8 45.5,415 43,422.5 38,428.8 31.75,430" fill="none" stroke="#222" stroke-width="0.55"/>
<polyline points="53,400 60.5,402.5 59,410 53,413.8 45.5,415" fill="none" stroke="#222" stroke-width="0.55"/>
<polyline points="78,386 76.75,395 74.25,405 75.5,416 79.25,422.5 84.25,427.5 93,431 103,432.5 112,435 117.5,443.8" fill="none" stroke="#222" stroke-width="0.55"/>
<polyline points="99.7,384.3 105,382.5 107.5,392.5 103,400 105.5,405 100.5,408.8 90.5,412.5 80.5,413.8 75.5,416" fill="none" stroke="#222" stroke-width="0.55"/>
<polyline points="100.5,408.8 102.5,412.5 111.25,413.8" fill="none" stroke="#222" stroke-width="0.55"/>
<polyline points="126.3,374.3 124,379 128,383 133.7,387.6" fill="none" stroke="#222" stroke-width="0.55"/>
<polyline points="118,376 116,381 120,385 125,383 124,379" fill="none" stroke="#222" stroke-width="0.55"/>
<polyline points="143.75,397.5 135,401.2 125,403.8 115,410 111.25,413.8 122.5,417.5 132.5,415 141.25,420 147,417.6" fill="none" stroke="#222" stroke-width="0.55"/>
<polyline points="122.5,417.5 120,427.5 125,437.5 117.5,443.8 110,445 102.5,440 103,432.5" fill="none" stroke="#222" stroke-width="0.55"/>
<polyline points="141.25,420 137.5,430 140,436.2 137.5,437.5 132.5,432.5 125,437.5" fill="none" stroke="#222" stroke-width="0.55"/>
<polyline points="137.5,437.5 145,435 153.75,440 162.5,443.8" fill="none" stroke="#222" stroke-width="0.55"/>
<polyline points="117.5,443.8 123.75,450 135,450 140,445 145,448 153.75,440" fill="none" stroke="#222" stroke-width="0.55"/>
<polyline points="135,450 140,457.5 137.5,465 145,462.5 153.75,463.8 158,463" fill="none" stroke="#222" stroke-width="0.55"/>
<polyline points="110,445 105,457.5 107.5,470 105,480 115,482.5 125,477.5 132.5,478.8 137.5,485" fill="none" stroke="#222" stroke-width="0.55"/>
<polyline points="125,477.5 130,470 137.5,465" fill="none" stroke="#222" stroke-width="0.55"/>
<polyline points="38,428.8 48,432.5 58,435 65.5,433.8 69.25,427.5 79.25,422.5" fill="none" stroke="#222" stroke-width="0.55"/>
<polyline points="65.5,433.8 70.5,440 66.75,445 70.5,448.8 81.75,451.2 89.25,452.5 96.75,451.2 103,455 105,457.5" fill="none" stroke="#222" stroke-width="0.55"/>
<polyline points="30.5,451.2 40.5,447.5 49.25,448.8 53,453.8 60.5,451.2 66.75,445" fill="none" stroke="#222" stroke-width="0.55"/>
<polyline points="89.25,452.5 86,441 93,431" fill="none" stroke="#222" stroke-width="0.55"/>
<polyline points="70.5,448.8 73,459 70,467 63,472.5 59.25,480 53,483.8 48,485 39.25,482.5 30.5,483.8" fill="none" stroke="#222" stroke-width="0.55"/>
<polyline points="63,472.5 70.5,473.8 81.75,471.2 86.75,477.5 94.25,478.8 100.5,477.5 105,480" fill="none" stroke="#222" stroke-width="0.55"/>
<polyline points="81.75,471.2 80,463 81.75,451.2" fill="none" stroke="#222" stroke-width="0.55"/>
<polyline points="86.75,477.5 78,487.5 81.75,497.5 76.75,505" fill="none" stroke="#222" stroke-width="0.55"/>
<polyline points="35.5,457.5 43,461.2 48,469 53,474 59.25,480" fill="none" stroke="#222" stroke-width="0.55"/>
<polyline points="186,347 180,353 172,357 166,363 160,369 158,375" fill="none" stroke="#222" stroke-width="0.55"/>
<polyline points="203,306 200,312 192,320 180,330 172,334 168,339" fill="none" stroke="#222" stroke-width="0.55"/>
<polyline points="168,339 162,339" fill="none" stroke="#222" stroke-width="0.55"/>
<polyline points="166,292 163.5,295.8 171,294.5 174.75,300.8 181,304.5 193.5,305.8 198.5,300.8 203.5,302" fill="none" stroke="#222" stroke-width="0.55"/>
<circle cx="147.7" cy="318.9" r="4.2" fill="#f46f5b"/>
<circle cx="137" cy="325.7" r="4.2" fill="#f46f5b"/>
<circle cx="165" cy="324.5" r="4.2" fill="#fdab68"/>
<circle cx="125" cy="341" r="4.2" fill="#f46f5b"/>
<circle cx="210" cy="318" r="4.2" fill="#f46f5b"/>
<circle cx="197" cy="332.5" r="4.2" fill="#f46f5b"/>
<circle cx="187" cy="331" r="4.2" fill="#f46f5b"/>
<circle cx="170.5" cy="326" r="4.2" fill="#fdab68"/>
<circle cx="167.5" cy="340" r="4.2" fill="#f46f5b"/>
<circle cx="216.3" cy="336.2" r="4.2" fill="#f46f5b"/>
<circle cx="234.3" cy="337.2" r="4.2" fill="#fdab68"/>
<circle cx="220" cy="343.75" r="4.2" fill="#fdab68"/>
<circle cx="249.5" cy="339" r="4.2" fill="#f46f5b"/>
<circle cx="49" cy="376" r="4.2" fill="#d92a31"/>
<circle cx="58" cy="371" r="4.2" fill="#d92a31"/>
<circle cx="74" cy="370" r="4.2" fill="#f46f5b"/>
<circle cx="82" cy="372" r="4.2" fill="#a80026"/>
<circle cx="82.5" cy="378" r="4.2" fill="#d92a31"/>
<circle cx="67.5" cy="377" r="4.2" fill="#fdab68"/>
<circle cx="67.5" cy="383" r="4.2" fill="#fdab68"/>
<circle cx="52" cy="386.5" r="4.2" fill="#f46f5b"/>
<circle cx="42.5" cy="386" r="4.2" fill="#fdab68"/>
<circle cx="34" cy="390" r="4.2" fill="#f46f5b"/>
<circle cx="124" cy="345" r="4.2" fill="#f46f5b"/>
<circle cx="131" cy="351.5" r="4.2" fill="#d92a31"/>
<circle cx="120" cy="356.5" r="4.2" fill="#d92a31"/>
<circle cx="156.5" cy="351.5" r="4.2" fill="#fdd78c"/>
<circle cx="164" cy="358" r="4.2" fill="#fdab68"/>
<circle cx="91.5" cy="366" r="4.2" fill="#f46f5b"/>
<circle cx="121.5" cy="366.5" r="4.2" fill="#d92a31"/>
<circle cx="144" cy="363" r="4.2" fill="#d92a31"/>
<circle cx="164" cy="367" r="4.2" fill="#f46f5b"/>
<circle cx="160" cy="373" r="4.2" fill="#fdab68"/>
<circle cx="168" cy="373" r="4.2" fill="#f46f5b"/>
<circle cx="84" cy="371" r="4.2" fill="#a80026"/>
<circle cx="84" cy="377" r="4.2" fill="#d92a31"/>
<circle cx="114" cy="378" r="4.2" fill="#fdab68"/>
<circle cx="131.5" cy="379.5" r="4.2" fill="#fdab68"/>
<circle cx="106.5" cy="383" r="4.2" fill="#a80026"/>
<circle cx="121.5" cy="386" r="4.2" fill="#d92a31"/>
<circle cx="139" cy="385" r="4.2" fill="#fdab68"/>
<circle cx="146.5" cy="384" r="4.2" fill="#d92a31"/>
<circle cx="90" cy="389.5" r="4.2" fill="#fdab68"/>
<circle cx="90" cy="396" r="4.2" fill="#fdab68"/>
<circle cx="105" cy="393" r="4.2" fill="#fdab68"/>
<circle cx="114" cy="392" r="4.2" fill="#f46f5b"/>
<circle cx="105" cy="400" r="4.2" fill="#a80026"/>
<circle cx="135" cy="406" r="4.2" fill="#fdd78c"/>
<circle cx="160" cy="403" r="4.2" fill="#fdd78c"/>
<circle cx="187" cy="346.5" r="4.2" fill="#f46f5b"/>
<circle cx="236.9" cy="346" r="4.2" fill="#fdd78c"/>
<circle cx="227" cy="351.5" r="4.2" fill="#d92a31"/>
<circle cx="193" cy="356.5" r="4.2" fill="#d92a31"/>
<circle cx="179" cy="358" r="4.2" fill="#f46f5b"/>
<circle cx="185.5" cy="359.5" r="4.2" fill="#d92a31"/>
<circle cx="209" cy="357" r="4.2" fill="#f46f5b"/>
<circle cx="217" cy="359" r="4.2" fill="#fdab68"/>
<circle cx="168" cy="358" r="4.2" fill="#fdab68"/>
<circle cx="196" cy="363.5" r="4.2" fill="#d92a31"/>
<circle cx="204" cy="363" r="4.2" fill="#f46f5b"/>
<circle cx="183.6" cy="364" r="4.2" fill="#f46f5b"/>
<circle cx="188" cy="366" r="4.2" fill="#a80026"/>
<circle cx="211" cy="366.5" r="4.2" fill="#a80026"/>
<circle cx="170.5" cy="366" r="4.2" fill="#d92a31"/>
<circle cx="195.5" cy="371.5" r="4.2" fill="#a80026"/>
<circle cx="204" cy="371" r="4.2" fill="#f46f5b"/>
<circle cx="169" cy="371" r="4.2" fill="#f46f5b"/>
<circle cx="188" cy="377" r="4.2" fill="#d92a31"/>
<circle cx="169" cy="376" r="4.2" fill="#f46f5b"/>
<circle cx="171" cy="399" r="4.2" fill="#fdab68"/>
<circle cx="79.8" cy="414" r="4.2" fill="#f46f5b"/>
<circle cx="47.5" cy="427" r="4.2" fill="#fdd78c"/>
<circle cx="36" cy="432" r="4.2" fill="#fdd78c"/>
<circle cx="55.5" cy="434" r="4.2" fill="#fdd78c"/>
<circle cx="69" cy="446" r="4.2" fill="#fdd78c"/>
<circle cx="72.5" cy="452" r="4.2" fill="#fdd78c"/>
<circle cx="59" cy="458" r="4.2" fill="#fdd78c"/>
<circle cx="67.5" cy="459.5" r="4.2" fill="#fdd78c"/>
<circle cx="49.5" cy="465" r="4.2" fill="#fdab68"/>
<circle cx="54" cy="471" r="4.2" fill="#fdab68"/>
<circle cx="61" cy="473" r="4.2" fill="#fdab68"/>
<circle cx="58" cy="477" r="4.2" fill="#f46f5b"/>
<circle cx="35" cy="473" r="4.2" fill="#fdd78c"/>
<circle cx="74" cy="478" r="4.2" fill="#fdd78c"/>
<circle cx="50" cy="478.5" r="4.2" fill="#fdd78c"/>
<circle cx="144" cy="417" r="4.2" fill="#fdab68"/>
<circle cx="115" cy="431" r="4.2" fill="#fdab68"/>
<circle cx="145" cy="430" r="4.2" fill="#fdd78c"/>
<circle cx="163" cy="434" r="4.2" fill="#fdd78c"/>
<circle cx="104" cy="444.5" r="4.2" fill="#f46f5b"/>
<circle cx="106.5" cy="454.5" r="4.2" fill="#fdd78c"/>
<circle cx="128" cy="444.5" r="4.2" fill="#fdab68"/>
<circle cx="129" cy="452" r="4.2" fill="#d92a31"/>
<circle cx="129" cy="460" r="4.2" fill="#fdd78c"/>
<circle cx="148" cy="453" r="4.2" fill="#fdab68"/>
<circle cx="163" cy="451" r="4.2" fill="#fdd78c"/>
<circle cx="90" cy="466" r="4.2" fill="#fdab68"/>
<circle cx="108" cy="466" r="4.2" fill="#fdab68"/>
<circle cx="106.5" cy="473" r="4.2" fill="#fdd78c"/>
<circle cx="89" cy="472" r="4.2" fill="#fdab68"/>
<circle cx="121.5" cy="471" r="4.2" fill="#fdd78c"/>
<circle cx="138" cy="468" r="4.2" fill="#fdab68"/>
<circle cx="146.5" cy="473" r="4.2" fill="#fdd78c"/>
<circle cx="138" cy="472" r="4.2" fill="#fdab68"/>
<circle cx="105" cy="481" r="4.2" fill="#fdd78c"/>
<circle cx="121.5" cy="481" r="4.2" fill="#fdab68"/>
<circle cx="35" cy="492.5" r="4.2" fill="#f46f5b"/>
<circle cx="42.5" cy="491" r="4.2" fill="#fdab68"/>
<circle cx="43" cy="500" r="4.2" fill="#d92a31"/>
<circle cx="65" cy="491.5" r="4.2" fill="#fdab68"/>
<circle cx="66" cy="485" r="4.2" fill="#fdd78c"/>
<circle cx="74" cy="486.5" r="4.2" fill="#fdd78c"/>
<circle cx="52.5" cy="506" r="4.2" fill="#fdab68"/>
<circle cx="59" cy="503" r="4.2" fill="#fdab68"/>
<circle cx="73" cy="513" r="4.2" fill="#f46f5b"/>
<circle cx="58" cy="521" r="4.2" fill="#fdab68"/>
<circle cx="67.5" cy="521" r="4.2" fill="#fdab68"/>
<circle cx="72.5" cy="479.5" r="4.2" fill="#fdd78c"/>
<circle cx="82" cy="486" r="4.2" fill="#fdab68"/>
<circle cx="90" cy="472" r="4.2" fill="#fdab68"/>
<circle cx="89.5" cy="484.5" r="4.2" fill="#fdab68"/>
<circle cx="97.5" cy="493" r="4.2" fill="#f46f5b"/>
<circle cx="81" cy="498" r="4.2" fill="#fdab68"/>
<circle cx="76" cy="500" r="4.2" fill="#fdab68"/>
<circle cx="86" cy="494.5" r="4.2" fill="#fdab68"/>
<circle cx="60" cy="477" r="4.2" fill="#f46f5b"/>
<circle cx="107" cy="472" r="4.2" fill="#fdd78c"/>
<circle cx="104.5" cy="479.5" r="4.2" fill="#fdab68"/>
<circle cx="122" cy="480" r="4.2" fill="#fdab68"/>
<circle cx="114.5" cy="483" r="4.2" fill="#fdd78c"/>
<circle cx="121" cy="486.5" r="4.2" fill="#f46f5b"/>
<circle cx="131" cy="486.5" r="4.2" fill="#fdd78c"/>
<circle cx="115" cy="490" r="4.2" fill="#fdab68"/>
<circle cx="123" cy="492.5" r="4.2" fill="#fdd78c"/>
<circle cx="107" cy="489" r="4.2" fill="#fdab68"/>
<circle cx="104" cy="500" r="4.2" fill="#fdd78c"/>
<circle cx="103" cy="484.5" r="4.2" fill="#f46f5b"/>
<circle cx="203.5" cy="304" r="5.85" fill="none" stroke="#62ccf4" stroke-width="1.45"/>
<circle cx="178" cy="338" r="5.85" fill="none" stroke="#2a14c8" stroke-width="1.45"/>
<circle cx="216.3" cy="336.2" r="5.85" fill="none" stroke="#2255e6" stroke-width="1.45"/>
<circle cx="234.3" cy="336.8" r="5.85" fill="none" stroke="#2a14c8" stroke-width="1.45"/>
<circle cx="238" cy="342" r="5.85" fill="none" stroke="#62ccf4" stroke-width="1.45"/>
<circle cx="236.9" cy="345.6" r="5.85" fill="none" stroke="#62ccf4" stroke-width="1.45"/>
<circle cx="52" cy="386.5" r="5.85" fill="none" stroke="#3a94f2" stroke-width="1.45"/>
<circle cx="114" cy="378" r="5.85" fill="none" stroke="#3a94f2" stroke-width="1.45"/>
<circle cx="121.5" cy="386" r="5.85" fill="none" stroke="#2a14c8" stroke-width="1.45"/>
<circle cx="136.5" cy="384.5" r="5.85" fill="none" stroke="#2a14c8" stroke-width="1.45"/>
<circle cx="57" cy="444" r="5.85" fill="none" stroke="#62ccf4" stroke-width="1.45"/>
<circle cx="59" cy="458" r="5.85" fill="none" stroke="#62ccf4" stroke-width="1.45"/>
<circle cx="67.5" cy="459.5" r="5.85" fill="none" stroke="#62ccf4" stroke-width="1.45"/>
<circle cx="35" cy="473" r="5.85" fill="none" stroke="#62ccf4" stroke-width="1.45"/>
<circle cx="84" cy="447" r="5.85" fill="none" stroke="#62ccf4" stroke-width="1.45"/>
<circle cx="136.5" cy="432" r="5.85" fill="none" stroke="#62ccf4" stroke-width="1.45"/>
<circle cx="146.5" cy="438" r="5.85" fill="none" stroke="#62ccf4" stroke-width="1.45"/>
<circle cx="88" cy="446" r="5.85" fill="none" stroke="#62ccf4" stroke-width="1.45"/>
<circle cx="96.5" cy="446" r="5.85" fill="none" stroke="#62ccf4" stroke-width="1.45"/>
<circle cx="104" cy="445" r="5.85" fill="none" stroke="#2255e6" stroke-width="1.45"/>
<circle cx="103" cy="451" r="5.85" fill="none" stroke="#62ccf4" stroke-width="1.45"/>
<circle cx="124" cy="453" r="5.85" fill="none" stroke="#62ccf4" stroke-width="1.45"/>
<circle cx="129" cy="458" r="5.85" fill="none" stroke="#3a94f2" stroke-width="1.45"/>
<circle cx="163" cy="451" r="5.85" fill="none" stroke="#62ccf4" stroke-width="1.45"/>
<circle cx="121.5" cy="471" r="5.85" fill="none" stroke="#3a94f2" stroke-width="1.45"/>
<circle cx="138" cy="468" r="5.85" fill="none" stroke="#62ccf4" stroke-width="1.45"/>
<circle cx="146.5" cy="473" r="5.85" fill="none" stroke="#62ccf4" stroke-width="1.45"/>
<circle cx="76" cy="498" r="5.85" fill="none" stroke="#3a94f2" stroke-width="1.45"/>
<circle cx="81" cy="497" r="5.85" fill="none" stroke="#3a94f2" stroke-width="1.45"/>
<circle cx="73" cy="507" r="5.85" fill="none" stroke="#62ccf4" stroke-width="1.45"/>
<circle cx="89.5" cy="484.5" r="5.85" fill="none" stroke="#62ccf4" stroke-width="1.45"/>
<circle cx="97.5" cy="493" r="5.85" fill="none" stroke="#3a94f2" stroke-width="1.45"/>
<circle cx="107" cy="489" r="5.85" fill="none" stroke="#3a94f2" stroke-width="1.45"/>
<circle cx="106" cy="493" r="5.85" fill="none" stroke="#3a94f2" stroke-width="1.45"/>
<circle cx="104" cy="500" r="5.85" fill="none" stroke="#3a94f2" stroke-width="1.45"/>
</g>
<rect x="31.6" y="280.4" width="241.20000000000002" height="248.0" fill="none" stroke="#333" stroke-width="0.8"/>
<line x1="31.6" y1="280.4" x2="31.6" y2="273.4" stroke="#333" stroke-width="0.8"/>
<line x1="31.6" y1="528.4" x2="31.6" y2="535.4" stroke="#333" stroke-width="0.8"/>
<line x1="71.80000000000001" y1="280.4" x2="71.80000000000001" y2="273.4" stroke="#333" stroke-width="0.8"/>
<line x1="71.80000000000001" y1="528.4" x2="71.80000000000001" y2="535.4" stroke="#333" stroke-width="0.8"/>
<line x1="112.0" y1="280.4" x2="112.0" y2="273.4" stroke="#333" stroke-width="0.8"/>
<line x1="112.0" y1="528.4" x2="112.0" y2="535.4" stroke="#333" stroke-width="0.8"/>
<line x1="152.20000000000002" y1="280.4" x2="152.20000000000002" y2="273.4" stroke="#333" stroke-width="0.8"/>
<line x1="152.20000000000002" y1="528.4" x2="152.20000000000002" y2="535.4" stroke="#333" stroke-width="0.8"/>
<line x1="192.4" y1="280.4" x2="192.4" y2="273.4" stroke="#333" stroke-width="0.8"/>
<line x1="192.4" y1="528.4" x2="192.4" y2="535.4" stroke="#333" stroke-width="0.8"/>
<line x1="232.6" y1="280.4" x2="232.6" y2="273.4" stroke="#333" stroke-width="0.8"/>
<line x1="232.6" y1="528.4" x2="232.6" y2="535.4" stroke="#333" stroke-width="0.8"/>
<line x1="272.8" y1="280.4" x2="272.8" y2="273.4" stroke="#333" stroke-width="0.8"/>
<line x1="272.8" y1="528.4" x2="272.8" y2="535.4" stroke="#333" stroke-width="0.8"/>
<line x1="31.6" y1="515.005" x2="28.0" y2="515.005" stroke="#777" stroke-width="0.8"/>
<text x="22.9" y="521.305" font-size="12.5" text-anchor="end">20N</text>
<line x1="31.6" y1="481.49" x2="29.400000000000002" y2="481.49" stroke="#777" stroke-width="0.8"/>
<line x1="31.6" y1="447.975" x2="28.0" y2="447.975" stroke="#777" stroke-width="0.8"/>
<text x="22.9" y="454.27500000000003" font-size="12.5" text-anchor="end">30N</text>
<line x1="31.6" y1="414.46" x2="29.400000000000002" y2="414.46" stroke="#777" stroke-width="0.8"/>
<line x1="31.6" y1="380.945" x2="28.0" y2="380.945" stroke="#777" stroke-width="0.8"/>
<text x="22.9" y="387.245" font-size="12.5" text-anchor="end">40N</text>
<line x1="31.6" y1="347.42999999999995" x2="29.400000000000002" y2="347.42999999999995" stroke="#777" stroke-width="0.8"/>
<line x1="31.6" y1="313.91499999999996" x2="28.0" y2="313.91499999999996" stroke="#777" stroke-width="0.8"/>
<text x="22.9" y="320.215" font-size="12.5" text-anchor="end">50N</text>
<line x1="31.6" y1="280.4" x2="29.400000000000002" y2="280.4" stroke="#777" stroke-width="0.8"/>
<text x="32" y="289.59999999999997" font-size="12.3" textLength="153.2" lengthAdjust="spacingAndGlyphs">(b) Cold extremes-intensity</text>
<rect x="272.8" y="280.4" width="8.0" height="20.67" fill="#a80026" stroke="#000" stroke-width="1.05"/>
<rect x="272.8" y="301.07" width="8.0" height="20.67" fill="#d92a31" stroke="#000" stroke-width="1.05"/>
<rect x="272.8" y="321.73" width="8.0" height="20.67" fill="#f46f5b" stroke="#000" stroke-width="1.05"/>
<rect x="272.8" y="342.4" width="8.0" height="20.67" fill="#fdab68" stroke="#000" stroke-width="1.05"/>
<rect x="272.8" y="363.07" width="8.0" height="20.67" fill="#fdd78c" stroke="#000" stroke-width="1.05"/>
<rect x="272.8" y="383.73" width="8.0" height="20.67" fill="#fdf5b8" stroke="#000" stroke-width="1.05"/>
<rect x="272.8" y="404.4" width="8.0" height="20.67" fill="#e8fcfc" stroke="#000" stroke-width="1.05"/>
<rect x="272.8" y="425.07" width="8.0" height="20.67" fill="#a6f0f8" stroke="#000" stroke-width="1.05"/>
<rect x="272.8" y="445.73" width="8.0" height="20.67" fill="#66ccf5" stroke="#000" stroke-width="1.05"/>
<rect x="272.8" y="466.4" width="8.0" height="20.67" fill="#3c96f0" stroke="#000" stroke-width="1.05"/>
<rect x="272.8" y="487.07" width="8.0" height="20.67" fill="#2255e6" stroke="#000" stroke-width="1.05"/>
<rect x="272.8" y="507.73" width="8.0" height="20.67" fill="#2a14c8" stroke="#000" stroke-width="1.05"/>
<text x="282.4" y="304.3" font-size="12.5">0.5</text>
<text x="282.4" y="324.9" font-size="12.5">0.4</text>
<text x="282.4" y="345.6" font-size="12.5">0.3</text>
<text x="282.4" y="366.3" font-size="12.5">0.2</text>
<text x="282.4" y="386.9" font-size="12.5">0.1</text>
<text x="282.4" y="407.6" font-size="12.5">0</text>
<text x="282.4" y="428.3" font-size="12.5">-0.2</text>
<text x="282.4" y="448.9" font-size="12.5">-0.4</text>
<text x="282.4" y="469.6" font-size="12.5">-0.6</text>
<text x="282.4" y="490.3" font-size="12.5">-0.8</text>
<text x="282.4" y="510.9" font-size="12.5">-1</text>
<text transform="translate(305.2,292) rotate(90)" font-size="10.3" textLength="100.6" lengthAdjust="spacingAndGlyphs" style="fill:#ff1414;stroke:#ff1414;stroke-width:0.32px">Warming before 1998</text>
<text transform="translate(305.2,424.8) rotate(90)" font-size="10.3" textLength="84.6" lengthAdjust="spacingAndGlyphs" style="fill:#1414ff;stroke:#1414ff;stroke-width:0.32px">Cooling after 1998</text>
<text transform="translate(324,287.6) rotate(90)" font-size="11.6" textLength="223.5" lengthAdjust="spacingAndGlyphs" style="fill:#000;stroke:#000;stroke-width:0.32px">Linear trends of intensity (degree C decade</text>
<text transform="translate(331.2,512.0) rotate(90)" font-size="7">-1</text>
<text transform="translate(324.6,518.1) rotate(90)" font-size="11.6">)</text>
<text x="32.0" y="557.5" font-size="12.5" text-anchor="middle">105E</text>
<text x="112.4" y="557.5" font-size="12.5" text-anchor="middle">115E</text>
<text x="192.8" y="557.5" font-size="12.5" text-anchor="middle">125E</text>
<text x="273.2" y="557.5" font-size="12.5" text-anchor="middle">135E</text>
</svg></body></html>
